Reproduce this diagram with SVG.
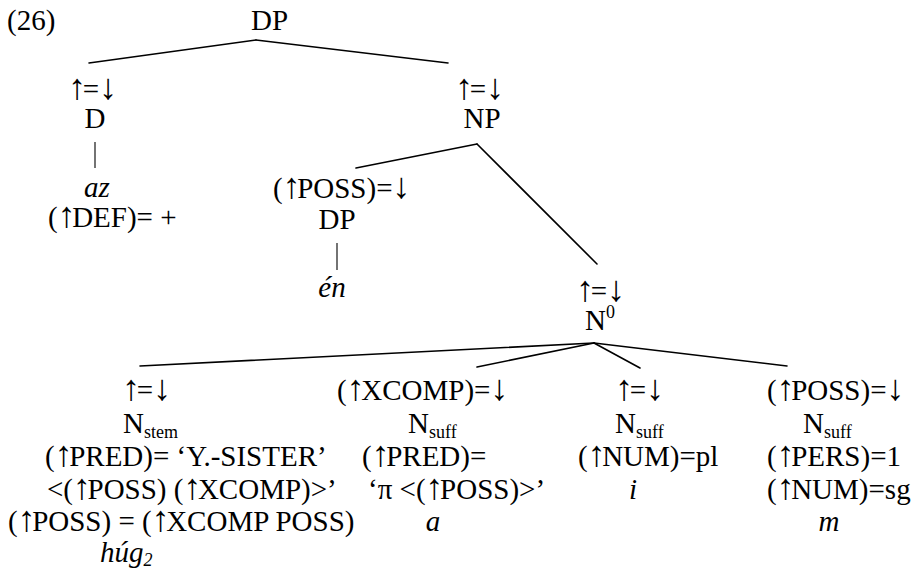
<svg xmlns="http://www.w3.org/2000/svg" width="918" height="578" viewBox="0 0 918 578">
<style>
text{font-family:"Liberation Serif","Times New Roman",serif;font-size:29px;fill:#000}
.m{text-anchor:middle}
.i{font-style:italic}
.sub{font-size:18px}
.ar{font-size:36px;letter-spacing:-3.5px}
.edge{stroke:#000;stroke-width:1.6;fill:none;stroke-linecap:round}
.bar{stroke:#000;stroke-width:1.1;fill:none}
</style>
<rect width="918" height="578" fill="#fff"/>
<text id="label" x="7" y="30">(26)</text>
<g id="connectors">
<path class="edge" d="M256,40 L89,63"/>
<path class="edge" d="M256,40 L448,63"/>
<path class="bar" d="M95,142 L95,168"/>
<path class="edge" d="M477,144 L356,168"/>
<path class="edge" d="M477,144 L597,264"/>
<path class="bar" d="M337,243 L337,270"/>
<path class="edge" d="M594,343 L140,366"/>
<path class="edge" d="M594,343 L477,367"/>
<path class="edge" d="M594,343 L640,368"/>
<path class="edge" d="M594,343 L787,366"/>
</g>
<g id="dp-root"><text x="251" y="30">DP</text></g>
<g id="d">
<text class="m" x="91" y="99"><tspan class="ar">↑</tspan>=<tspan class="ar">↓</tspan></text>
<text class="m" x="95" y="128">D</text>
<text class="m i" x="97" y="197">az</text>
<text x="48" y="227">(<tspan class="ar">↑</tspan>DEF)= +</text>
</g>
<g id="np">
<text class="m" x="478" y="99"><tspan class="ar">↑</tspan>=<tspan class="ar">↓</tspan></text>
<text class="m" x="482" y="128">NP</text>
</g>
<g id="dp-poss">
<text x="273" y="198">(<tspan class="ar">↑</tspan>POSS)=<tspan class="ar">↓</tspan></text>
<text class="m" x="337" y="229">DP</text>
<text class="m i" x="332" y="297">én</text>
</g>
<g id="n0">
<text class="m" x="599" y="301"><tspan class="ar">↑</tspan>=<tspan class="ar">↓</tspan></text>
<text x="585" y="330">N<tspan class="sub" dy="-12">0</tspan></text>
</g>
<g id="n-stem">
<text class="m" x="145" y="400"><tspan class="ar">↑</tspan>=<tspan class="ar">↓</tspan></text>
<text x="123" y="433">N<tspan class="sub" dy="5">stem</tspan></text>
<text x="45" y="466">(<tspan class="ar">↑</tspan>PRED)= ‘Y.-SISTER’</text>
<text x="47" y="499">&lt;(<tspan class="ar">↑</tspan>POSS) (<tspan class="ar">↑</tspan>XCOMP)&gt;’</text>
<text x="8" y="531">(<tspan class="ar">↑</tspan>POSS) = (<tspan class="ar">↑</tspan>XCOMP POSS)</text>
<text class="i" x="100" y="562">húg<tspan class="sub" dy="4">2</tspan></text>
</g>
<g id="n-suff-xcomp">
<text class="m" x="421" y="400">(<tspan class="ar">↑</tspan>XCOMP)=<tspan class="ar">↓</tspan></text>
<text x="408" y="433">N<tspan class="sub" dy="5">suff</tspan></text>
<text x="362" y="466">(<tspan class="ar">↑</tspan>PRED)=</text>
<text x="368" y="499">‘π &lt;(<tspan class="ar">↑</tspan>POSS)&gt;’</text>
<text class="m i" x="433" y="531">a</text>
</g>
<g id="n-suff-num">
<text class="m" x="638" y="400"><tspan class="ar">↑</tspan>=<tspan class="ar">↓</tspan></text>
<text x="615" y="433">N<tspan class="sub" dy="5">suff</tspan></text>
<text x="578" y="466">(<tspan class="ar">↑</tspan>NUM)=pl</text>
<text class="m i" x="633" y="499">i</text>
</g>
<g id="n-suff-poss">
<text x="767" y="400">(<tspan class="ar">↑</tspan>POSS)=<tspan class="ar">↓</tspan></text>
<text x="803" y="433">N<tspan class="sub" dy="5">suff</tspan></text>
<text x="767" y="466">(<tspan class="ar">↑</tspan>PERS)=1</text>
<text x="767" y="499">(<tspan class="ar">↑</tspan>NUM)=sg</text>
<text class="m i" x="829" y="531">m</text>
</g>
</svg>
